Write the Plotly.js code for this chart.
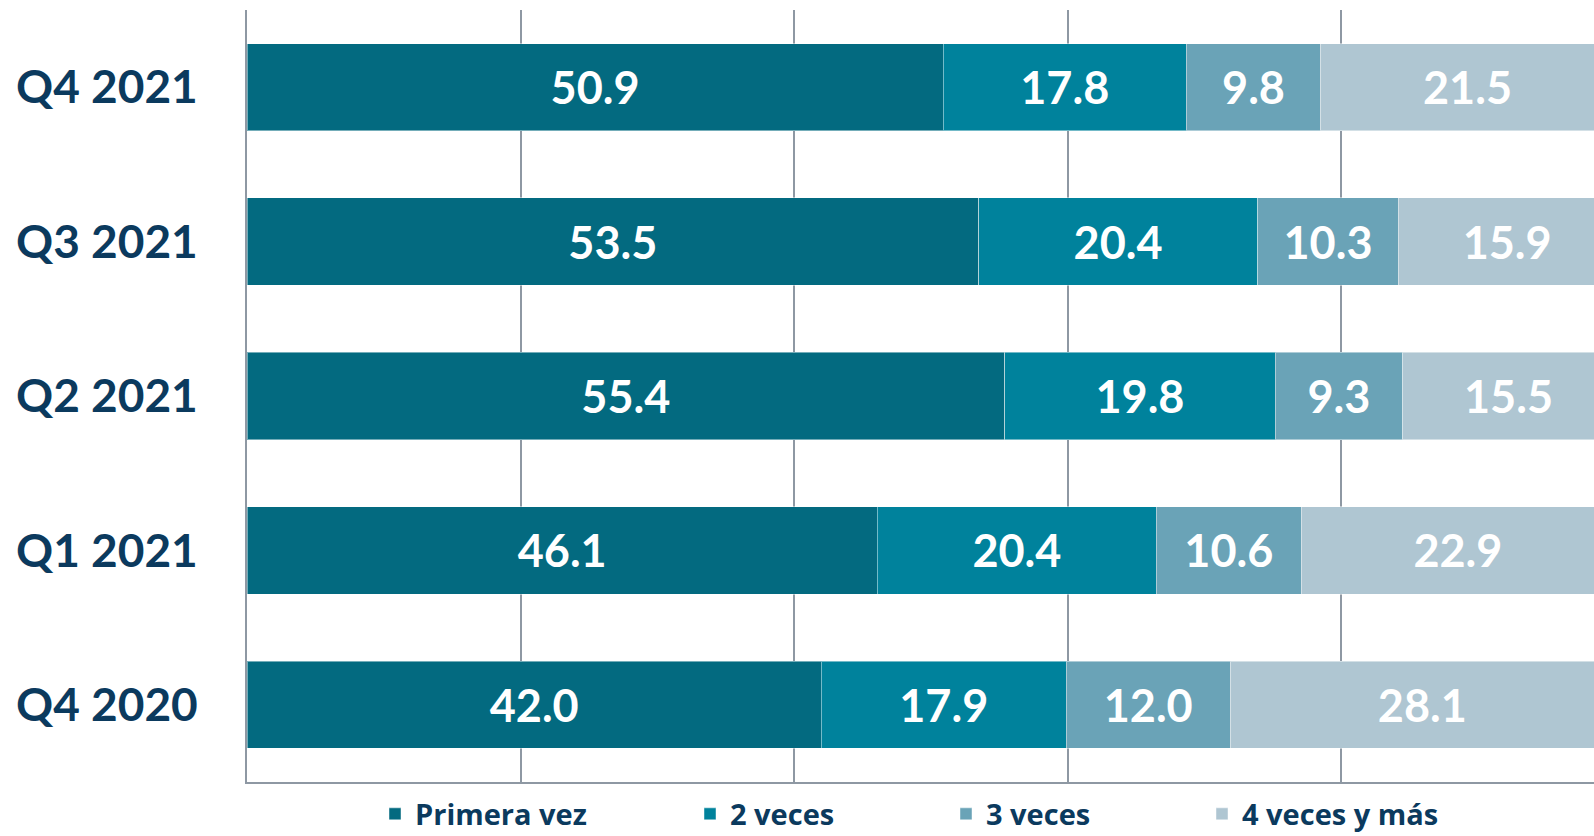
<!DOCTYPE html>
<html>
<head>
<meta charset="utf-8">
<script src="https://cdn.plot.ly/plotly-3.0.1.min.js"></script>
<style>
  html, body { margin: 0; padding: 0; background: #ffffff; }
  #chart { width: 1594px; height: 836px; }
</style>
</head>
<body>
<div id="chart"></div>
<script>
// ---- data ----
const categories = ["Q4 2021", "Q3 2021", "Q2 2021", "Q1 2021", "Q4 2020"];
const seriesNames = ["Primera vez", "2 veces", "3 veces", "4 veces y más"];
const primeraVez = [50.9, 53.5, 55.4, 46.1, 42.0];
const dosVeces   = [17.8, 20.4, 19.8, 20.4, 17.9];
const tresVeces  = [9.8, 10.3, 9.3, 10.6, 12.0];
const cuatroMas  = [21.5, 15.9, 15.5, 22.9, 28.1];

// ---- styles ----
const colors = ["#036A80", "#00829C", "#6AA3B7", "#AFC6D2"];
const navy = "#0B3A5E";
const fontFam = "Lato, 'Open Sans', sans-serif";
const legendFam = "'Open Sans', Lato, sans-serif";
const W = 1594, H = 836;
const legendTextStart = [415, 730, 986, 1242];

const values = [primeraVez, dosVeces, tresVeces, cuatroMas];
const legendIds = ["legend", "legend2", "legend3", "legend4"];

const traces = values.map((v, i) => ({
  type: "bar",
  orientation: "h",
  name: seriesNames[i],
  y: categories,
  x: v,
  legend: legendIds[i],
  marker: { color: colors[i], line: { color: "rgba(255,255,255,0.45)", width: 1 } },
  texttemplate: "%{x:.1f}",
  textposition: "inside",
  insidetextanchor: "middle",
  constraintext: "none",
  textangle: 0,
  textfont: { family: fontFam, size: 45, color: "#ffffff", weight: 700 },
  hoverinfo: "skip"
}));

const legendBase = {
  orientation: "h",
  xref: "container", yref: "container",
  xanchor: "left", yanchor: "middle",
  y: 1 - 814 / H,
  bgcolor: "rgba(0,0,0,0)",
  font: { family: legendFam, size: 29, color: navy, weight: 700 },
  itemclick: false, itemdoubleclick: false
};

const layout = {
  width: W, height: H,
  margin: { l: 247, r: 0, t: 10, b: 54 },
  paper_bgcolor: "#ffffff",
  plot_bgcolor: "#ffffff",
  barmode: "stack",
  bargap: 0.435,
  showlegend: true,
  xaxis: {
    range: [0, (W - 247) / 273.5 * 20],
    dtick: 20,
    showgrid: true,
    gridcolor: "#8E98A3",
    gridwidth: 2,
    showticklabels: false,
    zeroline: false,
    showline: true,
    linecolor: "#8E98A3",
    linewidth: 2,
    ticks: "",
    fixedrange: true
  },
  yaxis: {
    type: "category",
    autorange: "reversed",
    showgrid: false,
    zeroline: false,
    showline: true,
    linecolor: "#8E98A3",
    linewidth: 2,
    ticks: "",
    ticklabelstandoff: 38,
    tickfont: { family: fontFam, size: 46, color: navy, weight: 700 },
    fixedrange: true
  }
};
legendIds.forEach((id, i) => {
  layout[id] = Object.assign({}, legendBase, { x: (legendTextStart[i] - 40) / W });
});

Plotly.newPlot("chart", traces, layout, { displayModeBar: false, staticPlot: true });
</script>
</body>
</html>
